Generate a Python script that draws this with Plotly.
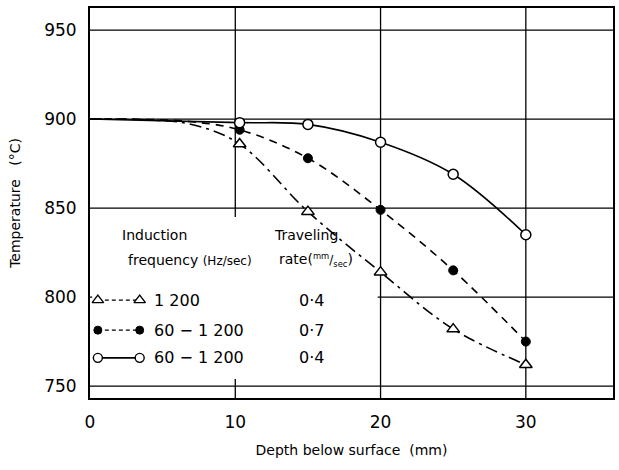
import plotly.graph_objects as go

# ---- data ----
depth_pts = [10.3, 15, 20, 25, 30]
temp_tri = [886, 848, 814, 782, 762]      # 1 200 Hz, 0.4 mm/s
temp_dot = [894, 878, 849, 815, 775]      # 60-1 200 Hz, 0.7 mm/s
temp_open = [898, 897, 887, 869, 835]     # 60-1 200 Hz, 0.4 mm/s

# curve anchor points (surface start at 900 C)
curve_tri_x = [0, 4, 7, 10.3, 15, 20, 25, 30]
curve_tri_y = [900, 899.5, 897, 886, 848, 814, 782, 762]
curve_dot_x = [0, 4, 7, 10.3, 15, 20, 25, 30]
curve_dot_y = [900, 899.8, 898.5, 894, 878, 849, 815, 775]
curve_open_x = [0, 10.3, 15, 20, 25, 30]
curve_open_y = [900, 898, 897, 887, 869, 835]

x_ticks = [0, 10, 20, 30]
y_ticks = [750, 800, 850, 900, 950]
x_grid = [10, 20, 30]
y_grid = [750, 800, 850, 900, 950]
x_range = [0, 36]
y_range = [743.3, 962.4]

freq_labels = ["1 200", "60 − 1 200", "60 − 1 200"]
rate_labels = ["0·4", "0·7", "0·4"]

FONT = "DejaVu Sans"
fig = go.Figure()

# curves
fig.add_trace(go.Scatter(x=curve_tri_x, y=curve_tri_y, mode="lines", line_shape="spline",
                         line=dict(color="black", width=1.6, dash="12px,5px,3px,5px"), showlegend=False))
fig.add_trace(go.Scatter(x=curve_dot_x, y=curve_dot_y, mode="lines", line_shape="spline",
                         line=dict(color="black", width=1.6, dash="8px,6px"), showlegend=False))
fig.add_trace(go.Scatter(x=curve_open_x, y=curve_open_y, mode="lines", line_shape="spline",
                         line=dict(color="black", width=1.6), showlegend=False))
# markers
fig.add_trace(go.Scatter(x=depth_pts, y=temp_tri, mode="markers",
                         marker=dict(symbol="triangle-up", size=11, color="white",
                                     line=dict(color="black", width=1.5)), showlegend=False))
fig.add_trace(go.Scatter(x=depth_pts, y=temp_dot, mode="markers",
                         marker=dict(symbol="circle", size=9, color="black",
                                     line=dict(color="black", width=1)), showlegend=False))
fig.add_trace(go.Scatter(x=depth_pts, y=temp_open, mode="markers",
                         marker=dict(symbol="circle", size=10, color="white",
                                     line=dict(color="black", width=1.5)), showlegend=False))

# legend samples on an overlay paper axis
leg_y = [0.251, 0.174, 0.103]
styles = [
    (dict(color="black", width=1.4, dash="4px,3px"), dict(symbol="triangle-up", size=10, color="white", line=dict(color="black", width=1.4))),
    (dict(color="black", width=1.4, dash="4px,3px"), dict(symbol="circle", size=8, color="black", line=dict(color="black", width=1))),
    (dict(color="black", width=1.6), dict(symbol="circle", size=9, color="white", line=dict(color="black", width=1.4))),
]
for yy, (ln, mk) in zip(leg_y, styles):
    fig.add_trace(go.Scatter(x=[0.015, 0.095], y=[yy, yy], mode="lines+markers", line=ln, marker=mk,
                             xaxis="x2", yaxis="y2", showlegend=False, cliponaxis=False))

annotations = []
def txt(x, y, s, size=14, xanchor="left"):
    annotations.append(dict(x=x, y=y, xref="paper", yref="paper", text=s, showarrow=False,
                            xanchor=xanchor, yanchor="middle", font=dict(family=FONT, size=size, color="black")))

txt(0.124, 0.418, "Induction", xanchor="center")
txt(0.192, 0.354, "frequency <span style='font-size:12px'>(Hz/sec)</span>", xanchor="center")
txt(0.413, 0.418, "Traveling", xanchor="center")
txt(0.432, 0.354, "rate(<span style='font-size:12px'><sup>mm</sup>/<sub>sec</sub></span>)", xanchor="center")
for yy, f, r in zip(leg_y, freq_labels, rate_labels):
    txt(0.118, yy, f, size=16)
    txt(0.395, yy, r, size=16)

# grid lines drawn as shapes so the legend panel can mask them
shapes = []
for gx in x_grid:
    shapes.append(dict(type="line", xref="x", yref="paper", x0=gx, x1=gx, y0=0, y1=1,
                       line=dict(color="black", width=1.3), layer="below"))
for gy in y_grid:
    shapes.append(dict(type="line", xref="paper", yref="y", x0=0, x1=1, y0=gy, y1=gy,
                       line=dict(color="black", width=1.3), layer="below"))
shapes.append(dict(type="rect", xref="x", yref="y", x0=0.15, x1=19.8, y0=754, y1=845,
                   fillcolor="white", line=dict(width=0), layer="below"))

fig.update_layout(
    width=619, height=470,
    margin=dict(l=90, r=4, t=8, b=72),
    paper_bgcolor="white", plot_bgcolor="white",
    font=dict(family=FONT, color="black"),
    xaxis=dict(range=x_range, tickvals=x_ticks, showgrid=False,
               zeroline=False, showline=True, linecolor="black", linewidth=2, mirror=True,
               ticks="", tickfont=dict(size=17, color="black"), ticklabelstandoff=8,
               title=dict(text="Depth below surface  (mm)", font=dict(size=14, color="black"), standoff=14)),
    yaxis=dict(range=y_range, tickvals=y_ticks, showgrid=False,
               zeroline=False, showline=True, linecolor="black", linewidth=2, mirror=True,
               ticks="", tickfont=dict(size=17, color="black"), ticklabelstandoff=8,
               title=dict(text="Temperature   (°C)", font=dict(size=14, color="black"), standoff=20)),
    xaxis2=dict(domain=[0, 1], range=[0, 1], overlaying="x", visible=False, anchor="y2"),
    yaxis2=dict(domain=[0, 1], range=[0, 1], overlaying="y", visible=False, anchor="x2"),
    shapes=shapes,
    annotations=annotations,
)

fig.write_html("out.html")
